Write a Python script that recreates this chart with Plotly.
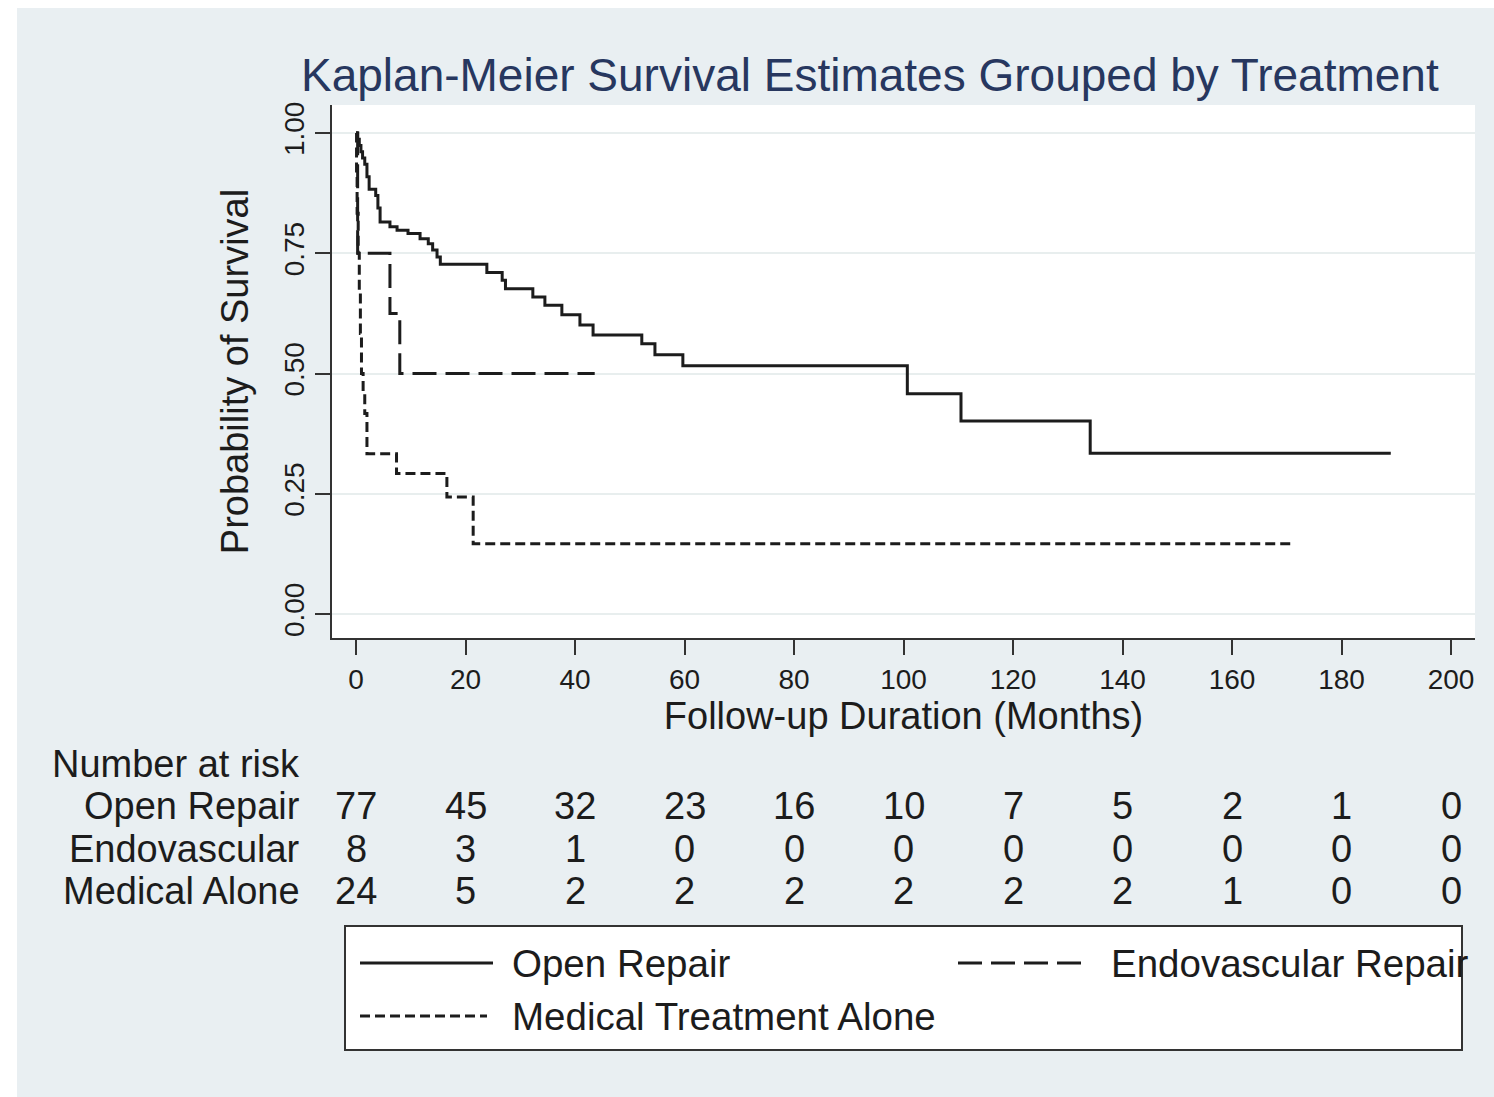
import plotly.graph_objects as go

# ---------------- data ----------------
# Kaplan-Meier step estimates (time in months, survival after the step)
open_t = [0, 0.3, 0.6, 0.9, 1.2, 1.6, 2.0, 2.4, 3.6, 4.0, 4.4, 6.2, 7.5, 9.5, 11.7, 13.2, 14.0,
          14.8, 15.4, 23.9, 26.7, 27.3, 32.3, 34.5, 37.6, 40.9, 43.3, 52.2, 54.6, 59.7, 100.7,
          110.5, 134.1]
open_s = [1.0, 0.987, 0.974, 0.961, 0.948, 0.935, 0.909, 0.883, 0.870, 0.844, 0.815, 0.805,
          0.798, 0.791, 0.780, 0.770, 0.757, 0.742, 0.727, 0.710, 0.694, 0.676, 0.659, 0.642,
          0.622, 0.601, 0.580, 0.562, 0.539, 0.516, 0.458, 0.401, 0.334]
open_end = 189.0

endo_t = [0, 0.3, 6.2, 8.0]
endo_s = [1.0, 0.75, 0.625, 0.5]
endo_end = 43.6

med_t = [0, 0.1, 0.2, 0.4, 0.6, 0.8, 1.0, 1.3, 1.6, 2.0, 7.4, 16.6, 21.4]
med_s = [1.0, 0.917, 0.833, 0.75, 0.667, 0.583, 0.5, 0.458, 0.417, 0.333, 0.292, 0.243, 0.146]
med_end = 171.5

series_names = ["Open Repair", "Endovascular Repair", "Medical Treatment Alone"]

# Number at risk table
risk_times = [0, 20, 40, 60, 80, 100, 120, 140, 160, 180, 200]
risk_labels = ["Open Repair", "Endovascular", "Medical Alone"]
risk_open = [77, 45, 32, 23, 16, 10, 7, 5, 2, 1, 0]
risk_endo = [8, 3, 1, 0, 0, 0, 0, 0, 0, 0, 0]
risk_med = [24, 5, 2, 2, 2, 2, 2, 2, 1, 0, 0]

x_ticks = [0, 20, 40, 60, 80, 100, 120, 140, 160, 180, 200]
y_ticks = [0, 0.25, 0.5, 0.75, 1.0]

# ---------------- layout geometry (pixels) ----------------
W, H = 1494, 1097
PL, PR, PT, PB = 332, 1475, 105, 638  # plot area edges in px


def px_x(px):
    return (px - PL) / (PR - PL)


def px_y(py):
    return (PB - py) / (PB - PT)


FONT = "Liberation Sans, Arial, sans-serif"
INK = "#1c1c1c"
BG = "#e9eff2"

styles = [dict(color=INK, width=3, dash="solid"),
          dict(color=INK, width=3, dash="24px,9px"),
          dict(color=INK, width=3, dash="10px,5px")]

fig = go.Figure()
for (t, s, end), name, st in zip([(open_t, open_s, open_end), (endo_t, endo_s, endo_end),
                                   (med_t, med_s, med_end)], series_names, styles):
    fig.add_trace(go.Scatter(x=list(t) + [end], y=list(s) + [s[-1]], mode="lines",
                             line=dict(shape="hv", **st), name=name, showlegend=False))

annotations = []
shapes = []

# white strips at the left and top edges of the image
shapes.append(dict(type="rect", xref="paper", yref="paper", x0=px_x(0), x1=px_x(17),
                   y0=px_y(H + 5), y1=px_y(-5), fillcolor="white", line=dict(width=0), layer="below"))
shapes.append(dict(type="rect", xref="paper", yref="paper", x0=px_x(0), x1=px_x(W + 5),
                   y0=px_y(8), y1=px_y(-5), fillcolor="white", line=dict(width=0), layer="below"))

# title
annotations.append(dict(text="Kaplan-Meier Survival Estimates Grouped by Treatment",
                        xref="paper", yref="paper", x=px_x(870), y=px_y(75),
                        xanchor="center", yanchor="middle", showarrow=False,
                        font=dict(family=FONT, size=46, color="#27375f")))

# number at risk table
RFS = 38
annotations.append(dict(text="Number at risk", xref="paper", yref="paper", x=px_x(302), y=px_y(764),
                        xanchor="right", yanchor="middle", showarrow=False,
                        font=dict(family=FONT, size=RFS, color=INK)))
row_y = [806, 849, 891]
for lab, vals, ry in zip(risk_labels, [risk_open, risk_endo, risk_med], row_y):
    annotations.append(dict(text=lab, xref="paper", yref="paper", x=px_x(302), y=px_y(ry),
                            xanchor="right", yanchor="middle", showarrow=False,
                            font=dict(family=FONT, size=RFS, color=INK)))
    for tt, v in zip(risk_times, vals):
        annotations.append(dict(text=str(v), xref="x", yref="paper", x=tt, y=px_y(ry),
                                xanchor="center", yanchor="middle", showarrow=False,
                                font=dict(family=FONT, size=RFS, color=INK)))

# legend box (drawn manually)
shapes.append(dict(type="rect", xref="paper", yref="paper", x0=px_x(345), x1=px_x(1462),
                   y0=px_y(1050), y1=px_y(926), fillcolor="white",
                   line=dict(color="#333333", width=2)))
leg_items = [(360, 493, 963, 510), (958, 1083, 963, 1109), (360, 487, 1016, 510)]
for (x0, x1, yy, tx), name, st in zip(leg_items, series_names, styles):
    shapes.append(dict(type="line", xref="paper", yref="paper", x0=px_x(x0), x1=px_x(x1),
                       y0=px_y(yy), y1=px_y(yy), line=st))
    annotations.append(dict(text=name, xref="paper", yref="paper", x=px_x(tx), y=px_y(yy),
                            xanchor="left", yanchor="middle", showarrow=False,
                            font=dict(family=FONT, size=38.5, color=INK)))

fig.update_layout(
    width=W, height=H,
    margin=dict(l=PL, r=W - PR, t=PT, b=H - PB, pad=0),
    paper_bgcolor=BG, plot_bgcolor="white",
    showlegend=False,
    annotations=annotations, shapes=shapes,
    font=dict(family=FONT, color=INK),
)
xr0 = (PL - 356) / 5.475
xr1 = (PR - 356) / 5.475
fig.update_xaxes(range=[xr0, xr1], tickvals=x_ticks, showgrid=False, zeroline=False,
                 showline=True, linecolor="#333333", linewidth=2,
                 ticks="outside", ticklen=15, tickwidth=2, tickcolor="#333333",
                 tickfont=dict(family=FONT, size=28, color=INK),
                 title=dict(text="Follow-up Duration (Months)", standoff=2,
                            font=dict(family=FONT, size=38, color=INK)))
yr0 = (614 - PB) / 481.0
yr1 = (614 - PT) / 481.0
fig.update_yaxes(range=[yr0, yr1], tickvals=y_ticks, tickformat=".2f", tickangle=-90,
                 showgrid=True, gridcolor="#e8eeee", gridwidth=2, zeroline=False,
                 showline=True, linecolor="#333333", linewidth=2,
                 ticks="outside", ticklen=15, tickwidth=2, tickcolor="#333333",
                 tickfont=dict(family=FONT, size=28, color=INK),
                 title=dict(text="Probability of Survival", standoff=18,
                            font=dict(family=FONT, size=38, color=INK)))

fig.write_html("out.html", config={"displayModeBar": False},
               post_script="document.body.style.margin='0';")
